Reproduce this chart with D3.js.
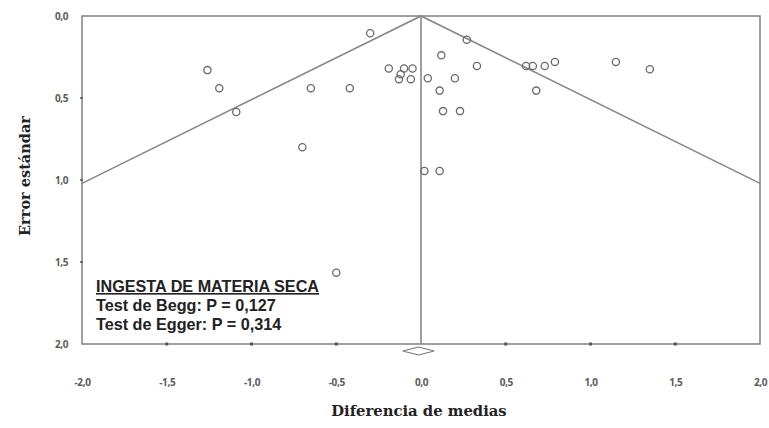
<!DOCTYPE html>
<html>
<head>
<meta charset="utf-8">
<script src="https://cdn.jsdelivr.net/npm/d3@7"></script>
<style>
  body { margin: 0; background: #fff; }
  svg { display: block; }
</style>
</head>
<body>
<div class="canvas"></div>
<script>
// diferencia de medias (x) y error estándar (y) de cada estudio
const diffs = [-1.26, -1.19, -1.09, -0.70, -0.65, -0.42, -0.30, -0.19, -0.10, -0.05, -0.13, -0.06, -0.12, -0.50,
  0.27, 0.12, 0.33, 0.04, 0.20, 0.11, 0.13, 0.23, 0.62, 0.66, 0.68, 0.73, 0.79, 1.15, 1.35, 0.02, 0.11];
const stdErrs = [0.33, 0.44, 0.585, 0.80, 0.44, 0.44, 0.105, 0.32, 0.32, 0.32, 0.385, 0.385, 0.355, 1.565,
  0.145, 0.24, 0.305, 0.38, 0.38, 0.455, 0.58, 0.58, 0.305, 0.305, 0.455, 0.305, 0.28, 0.28, 0.325, 0.945, 0.945];
const xTicks = [-2, -1.5, -1, -0.5, 0, 0.5, 1, 1.5, 2];
const yTicks = [0, 0.5, 1, 1.5, 2];
const pooled = [-0.108, -0.015, 0.078]; // IC inferior, estimación, IC superior
const testLines = ["INGESTA DE MATERIA SECA", "Test de Begg: P = 0,127", "Test de Egger: P = 0,314"];

const width = 769, height = 428;
const margin = { top: 16, right: 9, bottom: 84, left: 82 };
const plotW = width - margin.left - margin.right;
const plotH = height - margin.top - margin.bottom;

const svg = d3.select('.canvas').append('svg')
  .attr("width", width)
  .attr("height", height);

const x = d3.scaleLinear().domain([-2, 2]).range([0, plotW]);
const y = d3.scaleLinear().domain([0, 2]).range([0, plotH]);
const fmt = v => d3.format(".1f")(v).replace(".", ",").replace("−", "-");

const graph = svg.append('g')
  .attr("transform", `translate(${margin.left} ${margin.top})`);

const lineCol = "#878787";

// marco
graph.append('rect')
  .attr("width", plotW).attr("height", plotH)
  .attr("fill", "none").attr("stroke", lineCol).attr("stroke-width", 1.6);

// ejes
const xAxis = d3.axisBottom(x).tickValues(xTicks).tickSize(0).tickPadding(35).tickFormat(fmt);
const yAxis = d3.axisLeft(y).tickValues(yTicks).tickSize(0).tickPadding(14).tickFormat(fmt);

const xg = graph.append('g').attr("transform", `translate(0 ${plotH})`).call(xAxis);
const yg = graph.append('g').call(yAxis);
[xg, yg].forEach(g => {
  g.select(".domain").remove();
  g.selectAll("text")
    .attr("fill", "#5a5a5a")
    .style("font-family", "'Open Sans', sans-serif")
    .style("font-weight", "bold")
    .style("font-size", "10px")
    .style("letter-spacing", "-0.4px");
});

// marcas de escala
graph.selectAll('.xt').data(xTicks.filter(d => Math.abs(d) < 2 && d !== 0)).enter().append('rect')
  .attr("x", d => x(d) - 1.5).attr("y", plotH - 1.5)
  .attr("width", 3).attr("height", 3).attr("fill", "#555");
graph.selectAll('.yt').data(yTicks.filter(d => d > 0 && d < 2)).enter().append('line')
  .attr("x1", -2).attr("x2", 1).attr("y1", d => y(d)).attr("y2", d => y(d))
  .attr("stroke", "#555").attr("stroke-width", 1.5);

// línea vertical en 0 y embudo
graph.append('line')
  .attr("x1", x(0)).attr("x2", x(0)).attr("y1", 0).attr("y2", plotH)
  .attr("stroke", lineCol).attr("stroke-width", 1.6);
const seEdge = 2 / 1.96;
graph.append('path')
  .attr("d", d3.line()([[x(-2), y(seEdge)], [x(0), y(0)], [x(2), y(seEdge)]]))
  .attr("fill", "none").attr("stroke", lineCol).attr("stroke-width", 1.6);

// estudios
graph.selectAll('circle')
  .data(diffs.map((d, i) => ({ d: d, se: stdErrs[i] })))
  .enter().append('circle')
  .attr("cx", p => x(p.d))
  .attr("cy", p => y(p.se))
  .attr("r", 3.6)
  .attr("fill", "none")
  .attr("stroke", "#6a6a6a")
  .attr("stroke-width", 1.3);

// diamante del efecto combinado
const dy = plotH + 7;
graph.append('path')
  .attr("d", d3.line()([[x(pooled[0]), dy], [x(pooled[1]), dy - 4], [x(pooled[2]), dy], [x(pooled[1]), dy + 4]]) + "Z")
  .attr("fill", "#fff").attr("stroke", "#777").attr("stroke-width", 1.2);

// texto de los tests
const box = graph.append('text')
  .attr("x", 14).attr("y", 276)
  .style("font-family", "'Liberation Sans', Arial, sans-serif")
  .style("font-weight", "bold")
  .style("font-size", "16.2px")
  .attr("fill", "#222");
box.selectAll('tspan').data(testLines).enter().append('tspan')
  .attr("x", 14)
  .attr("dy", (d, i) => i === 0 ? 0 : 19)
  .style("text-decoration", (d, i) => i === 0 ? "underline" : "none")
  .text(d => d);

// títulos de ejes
svg.append('text')
  .attr("x", margin.left + x(0) - 2).attr("y", 416)
  .attr("text-anchor", "middle")
  .style("font-family", "'DejaVu Serif', serif")
  .style("font-weight", "bold")
  .style("font-size", "14.8px")
  .attr("fill", "#222")
  .text("Diferencia de medias");

svg.append('text')
  .attr("transform", "translate(30 176) rotate(-90)")
  .attr("text-anchor", "middle")
  .style("font-family", "'DejaVu Serif', serif")
  .style("font-weight", "bold")
  .style("font-size", "14.5px")
  .attr("fill", "#222")
  .text("Error estándar");
</script>
</body>
</html>
